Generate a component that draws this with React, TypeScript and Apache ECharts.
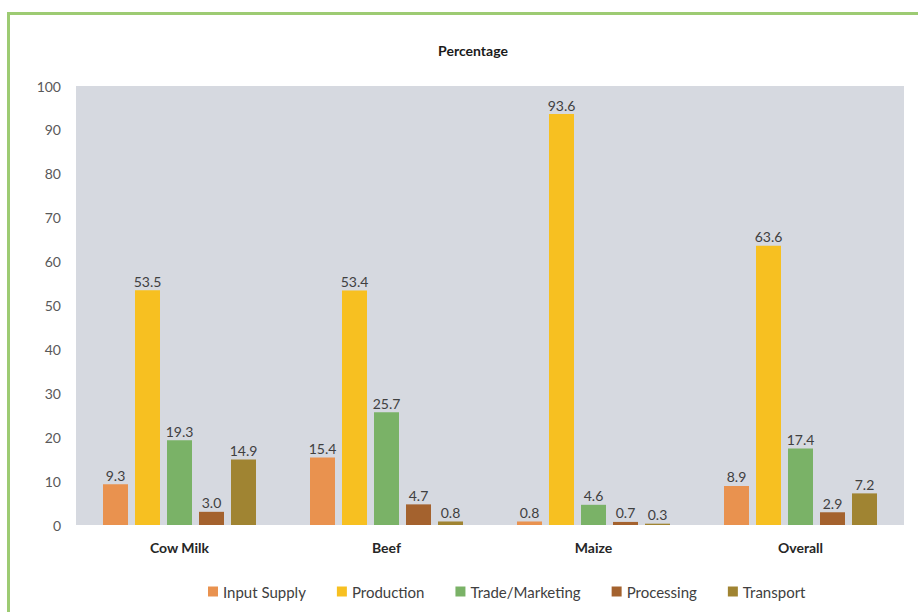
import React, { useEffect, useRef } from "react";
import * as echarts from "echarts";

const categories = ["Cow Milk", "Beef", "Maize", "Overall"];
const seriesNames = ["Input Supply", "Production", "Trade/Marketing", "Processing", "Transport"];
const inputSupply = [9.3, 15.4, 0.8, 8.9];
const production = [53.5, 53.4, 93.6, 63.6];
const tradeMarketing = [19.3, 25.7, 4.6, 17.4];
const processing = [3.0, 4.7, 0.7, 2.9];
const transport = [14.9, 0.8, 0.3, 7.2];
const colors = ["#E9924F", "#F7C021", "#7AB267", "#A4622E", "#A08432"];

const FONT = "Lato, 'Open Sans', sans-serif";

export default function App() {
  const ref = useRef<HTMLDivElement>(null);

  useEffect(() => {
    if (!ref.current) return;
    const chart = echarts.init(ref.current, undefined, { renderer: "svg" });
    const values = [inputSupply, production, tradeMarketing, processing, transport];
    chart.setOption({
      animation: false,
      backgroundColor: "#ffffff",
      textStyle: { fontFamily: FONT },
      title: {
        text: "Percentage",
        left: 468,
        top: 38,
        textAlign: "center",
        textStyle: { fontSize: 14, fontWeight: "bold", color: "#1a1a1a", fontFamily: FONT },
      },
      graphic: [
        {
          type: "rect",
          shape: { x: 8.5, y: 13.5, width: 1000, height: 700 },
          style: { fill: "none", stroke: "#9DCB73", lineWidth: 3 },
          silent: true,
        },
      ],
      legend: {
        top: 579,
        left: 203,
        itemWidth: 10,
        itemHeight: 10,
        itemGap: 31,
        icon: "rect",
        data: seriesNames,
        textStyle: { fontSize: 15, color: "#404040", fontFamily: FONT },
      },
      grid: {
        left: 76,
        right: 14,
        top: 86,
        bottom: 87,
        show: true,
        backgroundColor: "#D6D9E0",
        borderWidth: 0,
      },
      xAxis: {
        type: "category",
        data: categories,
        axisLine: { show: false },
        axisTick: { show: false },
        axisLabel: {
          margin: 15,
          fontSize: 14,
          fontWeight: "bold",
          color: "#262626",
          fontFamily: FONT,
        },
      },
      yAxis: {
        type: "value",
        min: 0,
        max: 100,
        interval: 10,
        splitLine: { show: false },
        axisLine: { show: false },
        axisTick: { show: false },
        axisLabel: { margin: 15, fontSize: 14, color: "#595959", fontFamily: FONT },
      },
      series: seriesNames.map((name, i) => ({
        name,
        type: "bar",
        data: values[i],
        barWidth: 25,
        barGap: "28%",
        itemStyle: { color: colors[i] },
        label: {
          show: true,
          position: "top",
          distance: 2,
          fontSize: 14,
          color: "#404040",
          fontFamily: FONT,
          formatter: (p: any) => Number(p.value).toFixed(1),
        },
      })),
    });
    return () => chart.dispose();
  }, []);

  return (
    <div
      ref={ref}
      style={{ position: "fixed", left: 0, top: 0, width: 918, height: 612 }}
    />
  );
}
